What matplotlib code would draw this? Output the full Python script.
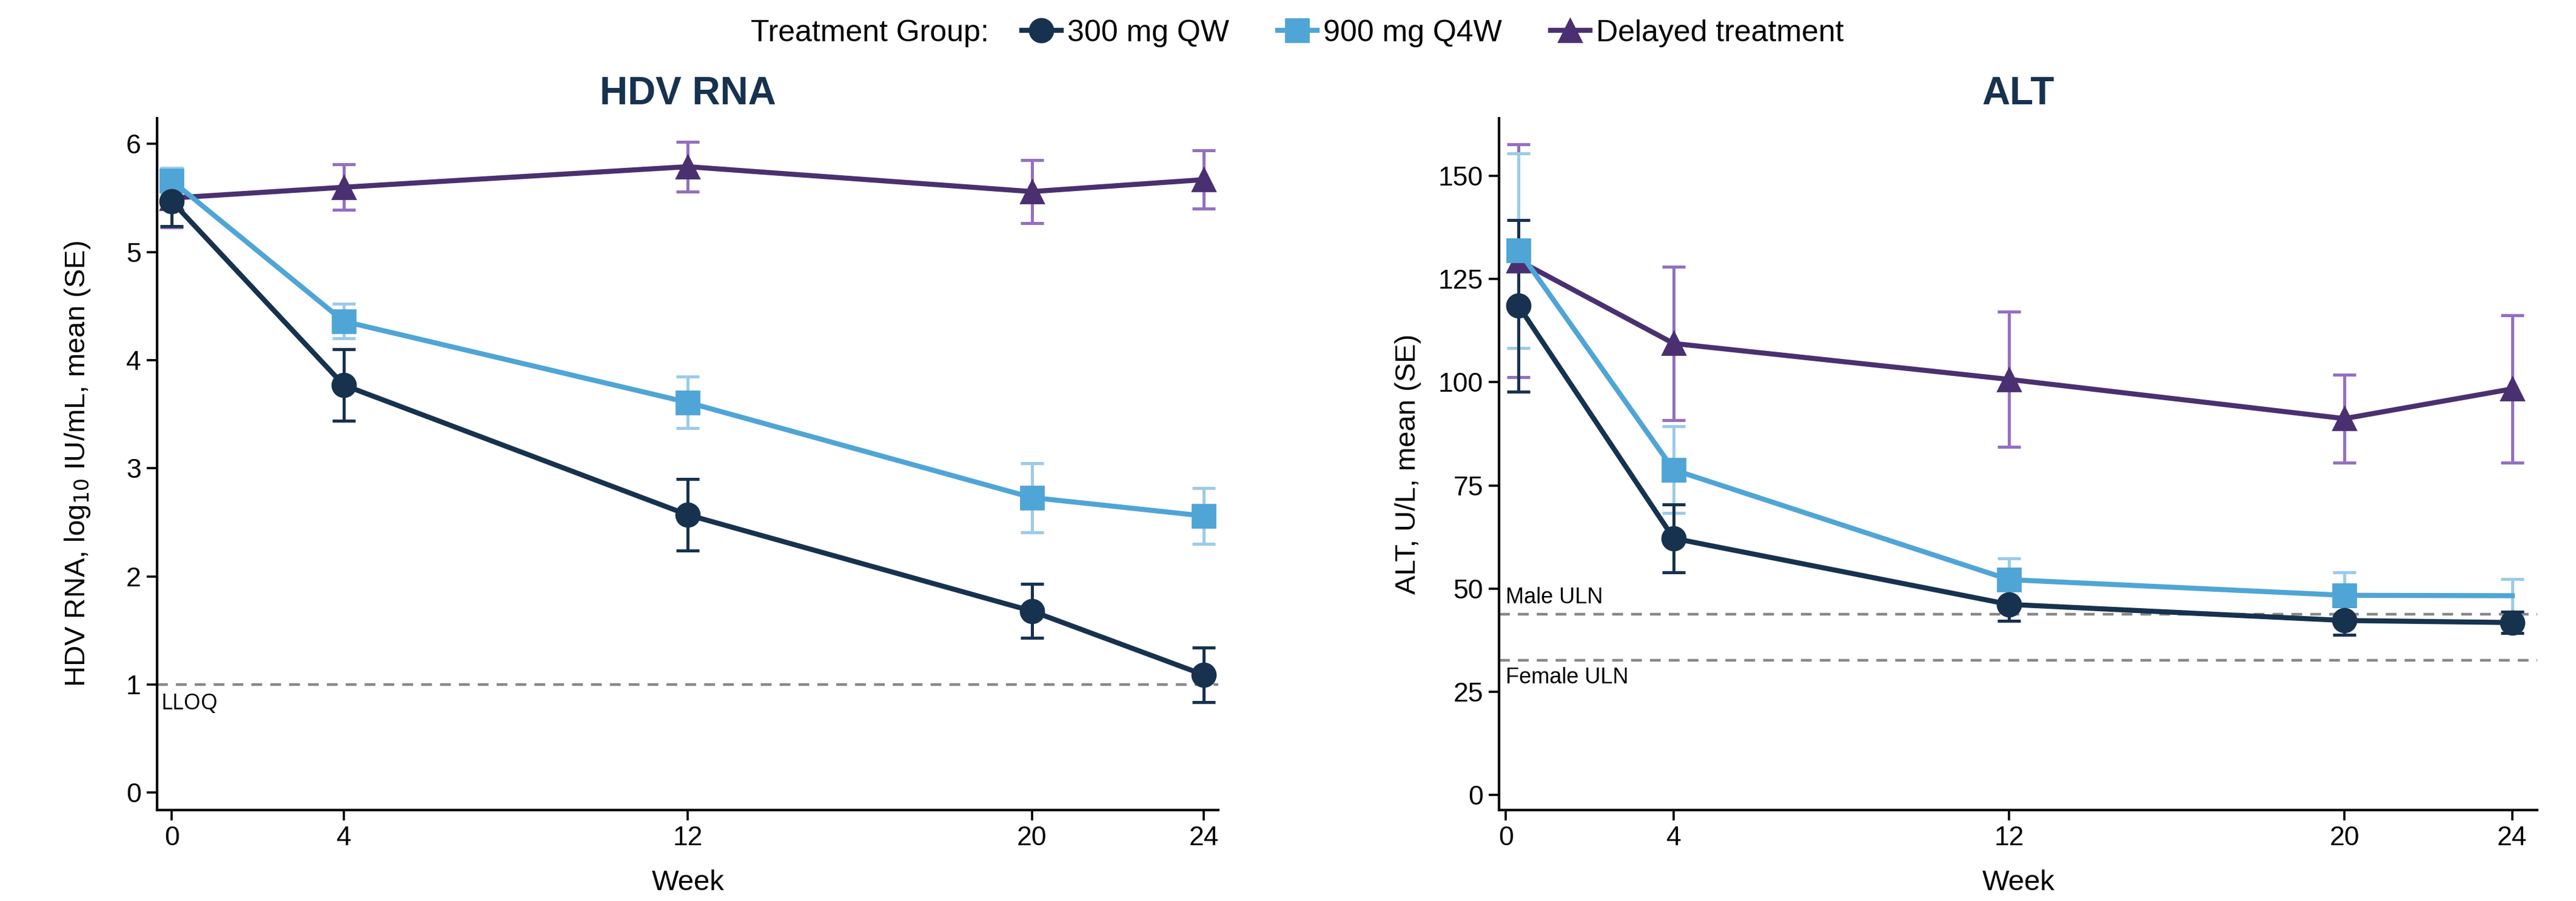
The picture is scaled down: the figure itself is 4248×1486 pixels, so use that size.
import matplotlib.pyplot as plt
from matplotlib.lines import Line2D

# weeks and values
weeks = [0, 4, 12, 20, 24]
alt_weeks = [0.3, 4, 12, 20, 24]

hdv_300 = [5.47, 3.77, 2.57, 1.68, 1.09]
hdv_300_se = [0.23, 0.33, 0.33, 0.25, 0.25]
hdv_900 = [5.66, 4.36, 3.61, 2.73, 2.56]
hdv_900_se = [0.12, 0.16, 0.24, 0.32, 0.26]
hdv_del = [5.50, 5.60, 5.79, 5.56, 5.67]
hdv_del_se = [0.27, 0.21, 0.23, 0.29, 0.27]

alt_300 = [118.5, 62.2, 46.2, 42.3, 41.8]
alt_300_se = [20.8, 8.2, 4.0, 3.4, 2.6]
alt_900 = [131.9, 78.8, 52.2, 48.4, 48.3]
alt_900_se = [23.6, 10.5, 5.1, 5.6, 4.0]
alt_del = [129.5, 109.4, 100.7, 91.2, 98.4]
alt_del_se = [28.2, 18.6, 16.4, 10.6, 17.8]

lloq = 1.0
male_uln = 43.8
female_uln = 32.6

groups = ["300 mg QW", "900 mg Q4W", "Delayed treatment"]
c_navy, c_blue, c_purple = "#17324f", "#4fa5d6", "#4a3070"
e_navy, e_blue, e_purple = "#17324f", "#9ccbe8", "#9370c0"

plt.rcParams['font.family'] = ['Liberation Sans', 'DejaVu Sans']

fig = plt.figure(figsize=(21.24, 7.43), dpi=200)
ax1 = fig.add_axes([0.061, 0.101, 0.412, 0.768])
ax2 = fig.add_axes([0.582, 0.101, 0.403, 0.768])

err_kw = dict(capsize=7, elinewidth=1.8, capthick=1.8, linewidth=3.0, markersize=14)


def draw(ax, x, series):
    for m, se, col, ecol, mk, mevery in series:
        ax.errorbar(x, m, yerr=se, color=col, ecolor=ecol, marker=mk,
                    markevery=mevery, **err_kw)


draw(ax1, weeks, [
    (hdv_del, hdv_del_se, c_purple, e_purple, '^', None),
    (hdv_900, hdv_900_se, c_blue, e_blue, 's', None),
    (hdv_300, hdv_300_se, c_navy, e_navy, 'o', None),
])
# no square drawn at week 24 for 900 mg in the ALT panel
draw(ax2, alt_weeks, [
    (alt_del, alt_del_se, c_purple, e_purple, '^', None),
    (alt_900, alt_900_se, c_blue, e_blue, 's', [0, 1, 2, 3]),
    (alt_300, alt_300_se, c_navy, e_navy, 'o', None),
])

ax1.axhline(lloq, color='#888888', linestyle=(0, (4, 3)), linewidth=1.6, zorder=0)
ax1.text(-0.25, lloq - 0.08, "LLOQ", fontsize=13, family='Open Sans', va='top')
ax2.axhline(male_uln, color='#888888', linestyle=(0, (4, 3)), linewidth=1.6, zorder=0)
ax2.axhline(female_uln, color='#888888', linestyle=(0, (4, 3)), linewidth=1.6, zorder=0)
ax2.text(0.0, male_uln + 1.5, "Male ULN", fontsize=13, va='bottom')
ax2.text(0.0, female_uln - 1.5, "Female ULN", fontsize=13, va='top')

ax1.set_xlim(-0.34, 24.34)
ax1.set_ylim(-0.16, 6.24)
ax1.set_yticks(range(0, 7))
ax2.set_xlim(-0.16, 24.6)
ax2.set_ylim(-3.6, 164)
ax2.set_yticks(range(0, 151, 25))

for ax, title, ylab, pad in [(ax1, "HDV RNA", "HDV RNA, log$_{10}$ IU/mL, mean (SE)", 20),
                             (ax2, "ALT", "ALT, U/L, mean (SE)", 10)]:
    ax.set_xticks(weeks)
    ax.spines['top'].set_visible(False)
    ax.spines['right'].set_visible(False)
    for s in ['left', 'bottom']:
        ax.spines[s].set_linewidth(1.5)
    ax.tick_params(labelsize=16, length=6, width=1.3)
    ax.set_title(title, fontsize=23, fontweight='bold', color=c_navy, pad=8)
    ax.set_ylabel(ylab, fontsize=17, labelpad=pad)
    ax.set_xlabel("Week", fontsize=17, labelpad=11)

handles = [
    Line2D([], [], color=c_navy, marker='o', markersize=14, linewidth=3.0),
    Line2D([], [], color=c_blue, marker='s', markersize=14, linewidth=3.0),
    Line2D([], [], color=c_purple, marker='^', markersize=14, linewidth=3.0),
]
fig.text(0.384, 0.963, "Treatment Group:", fontsize=18, ha='right', va='center')
fig.legend(handles, groups, loc='center left', bbox_to_anchor=(0.386, 0.963), ncol=3,
           frameon=False, handlelength=1.3, handletextpad=0.2, columnspacing=1.6,
           prop={'size': 18})

fig.savefig("out.png", dpi=200)
